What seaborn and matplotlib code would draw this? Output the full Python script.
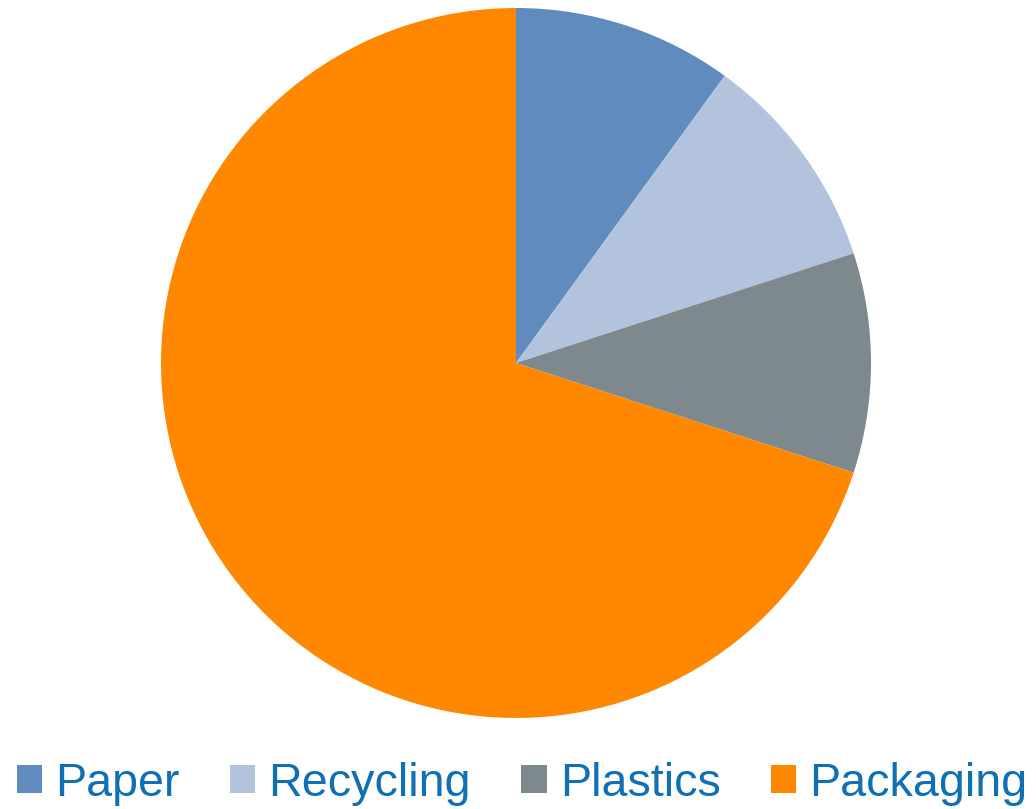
import matplotlib
matplotlib.use("Agg")
import matplotlib.pyplot as plt
import seaborn as sns

categories = ["Paper", "Recycling", "Plastics", "Packaging"]
shares = [10, 10, 10, 70]
colors = ["#5f8bbf", "#b3c3dd", "#7d898d", "#ff8800"]
text_color = "#1170b3"

sns.set_theme(style="white")
plt.rcParams["font.family"] = ["Liberation Sans", "DejaVu Sans"]

fig = plt.figure(figsize=(10.36, 8.09), dpi=100)
ax = fig.add_axes([161 / 1036, 91 / 809, 710 / 1036, 710 / 809])

wedges, _ = ax.pie(
    shares,
    colors=colors,
    startangle=90,
    counterclock=False,
    radius=1.0,
    wedgeprops=dict(linewidth=0),
)
ax.set_xlim(-1, 1)
ax.set_ylim(-1, 1)
ax.set_aspect("equal")
ax.axis("off")

leg = fig.legend(
    wedges,
    categories,
    loc="center",
    bbox_to_anchor=(0.504, 0.031),
    ncol=4,
    frameon=False,
    fontsize=33.6,
    handlelength=0.54,
    handleheight=0.54,
    handletextpad=0.28,
    columnspacing=1.08,
    borderpad=0,
    borderaxespad=0,
)
for t in leg.get_texts():
    t.set_color(text_color)

fig.savefig("out.png", dpi=100)
